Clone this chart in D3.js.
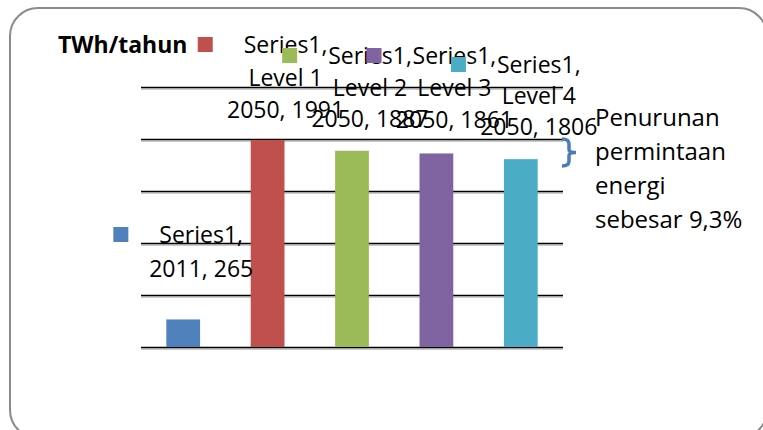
<!DOCTYPE html>
<html>
<head>
<meta charset="utf-8">
<script src="https://cdn.jsdelivr.net/npm/d3@7"></script>
<style>
  html, body { margin: 0; padding: 0; background: #fff; }
  svg { display: block; }
  text { font-family: "Open Sans", sans-serif; fill: #000; }
</style>
</head>
<body>
<svg id="chart" width="763" height="430"></svg>
<script>
// ---- data ----
const categories = ["2011", "2050 Level 1", "2050 Level 2", "2050 Level 3", "2050 Level 4"];
const values = [265, 1991, 1887, 1861, 1806];
const seriesNames = ["Series1,", "Series1,", "Series1,", "Series1,", "Series1,"];
const levelNames = ["", "Level 1", "Level 2", "Level 3", "Level 4"];
const years = ["2011", "2050", "2050", "2050", "2050"];
const tickValues = [0, 500, 1000, 1500, 2000, 2500];
const unitLabel = "TWh/tahun";
const noteLines = ["Penurunan", "permintaan", "energi", "sebesar 9,3%"];

// ---- style / layout ----
const colors = ["#4f81bd", "#c0504d", "#9bbb59", "#8064a2", "#4bacc6"];
// first-baseline y of each data label (labels drawn centred at bar centre + dx)
const labelBaseline = [243, 53, 64, 64, 73];
const labelDx = 18;
const labelLineGap = [34, 32.5, 31.5, 32, 31];

const svg = d3.select("#chart");

// outer rounded border
svg.append("rect")
  .attr("x", 10).attr("y", 8).attr("width", 757).attr("height", 430)
  .attr("rx", 28).attr("ry", 28)
  .attr("fill", "none").attr("stroke", "#8c8c8c").attr("stroke-width", 2);

const plot = { left: 141, right: 563, top: 87, bottom: 347 };

const x = d3.scaleBand().domain(categories)
  .range([plot.left, plot.right]).paddingInner(0.6).paddingOuter(0.3);
const y = d3.scaleLinear().domain([0, 2500]).range([plot.bottom, plot.top]);

// gridlines (with soft shadow beneath)
const gridShadow = svg.append("g")
  .attr("transform", `translate(${plot.left},1.6)`)
  .call(d3.axisLeft(y).tickValues(tickValues).tickFormat("").tickSize(-(plot.right - plot.left)));
gridShadow.select(".domain").remove();
gridShadow.selectAll("line").attr("stroke", "#a6a6a6").attr("stroke-width", 1);

const grid = svg.append("g")
  .attr("transform", `translate(${plot.left},0)`)
  .call(d3.axisLeft(y).tickValues(tickValues).tickFormat("").tickSize(-(plot.right - plot.left)));
grid.select(".domain").remove();
grid.selectAll("line").attr("stroke", "#000").attr("stroke-width", 1.6);

// bars
svg.append("g").selectAll("rect")
  .data(values)
  .join("rect")
  .attr("x", (d, i) => x(categories[i]))
  .attr("width", x.bandwidth())
  .attr("y", d => y(d))
  .attr("height", d => y(0) - y(d))
  .attr("fill", (d, i) => colors[i]);

// unit label
svg.append("text")
  .attr("x", 58).attr("y", 53)
  .style("font-weight", "bold").style("font-size", "23px")
  .text(unitLabel);

// data labels with legend keys
const labels = svg.append("g");
values.forEach((v, i) => {
  const cx = x(categories[i]) + x.bandwidth() / 2 + labelDx;
  const lines = levelNames[i] ? [seriesNames[i], levelNames[i], years[i] + ", " + v]
                              : [seriesNames[i], years[i] + ", " + v];
  const g = labels.append("g");
  const t = g.selectAll("text").data(lines).join("text")
    .attr("x", cx)
    .attr("y", (d, k) => labelBaseline[i] + k * labelLineGap[i])
    .attr("text-anchor", "middle")
    .style("font-size", "23px")
    .text(d => d);
  // key square left of first line
  const w = t.nodes()[0].getComputedTextLength();
  g.append("rect")
    .attr("x", cx - w / 2 - 46)
    .attr("y", labelBaseline[i] - 16)
    .attr("width", 15).attr("height", 15)
    .attr("fill", colors[i]);
});

// curly brace
const bx = 562, by0 = 139, by1 = 166, bm = (by0 + by1) / 2;
svg.append("path")
  .attr("d", `M${bx},${by0} Q${bx + 7},${by0} ${bx + 7},${by0 + 5} L${bx + 7},${bm - 3} Q${bx + 7},${bm} ${bx + 14},${bm}
              Q${bx + 7},${bm} ${bx + 7},${bm + 3} L${bx + 7},${by1 - 5} Q${bx + 7},${by1} ${bx},${by1}`)
  .attr("fill", "none").attr("stroke", "#4a7ebb").attr("stroke-width", 3.5);

// note text
svg.append("g").selectAll("text")
  .data(noteLines)
  .join("text")
  .attr("x", 595)
  .attr("y", (d, i) => 126 + i * 34)
  .style("font-size", "24px")
  .text(d => d);
</script>
</body>
</html>
